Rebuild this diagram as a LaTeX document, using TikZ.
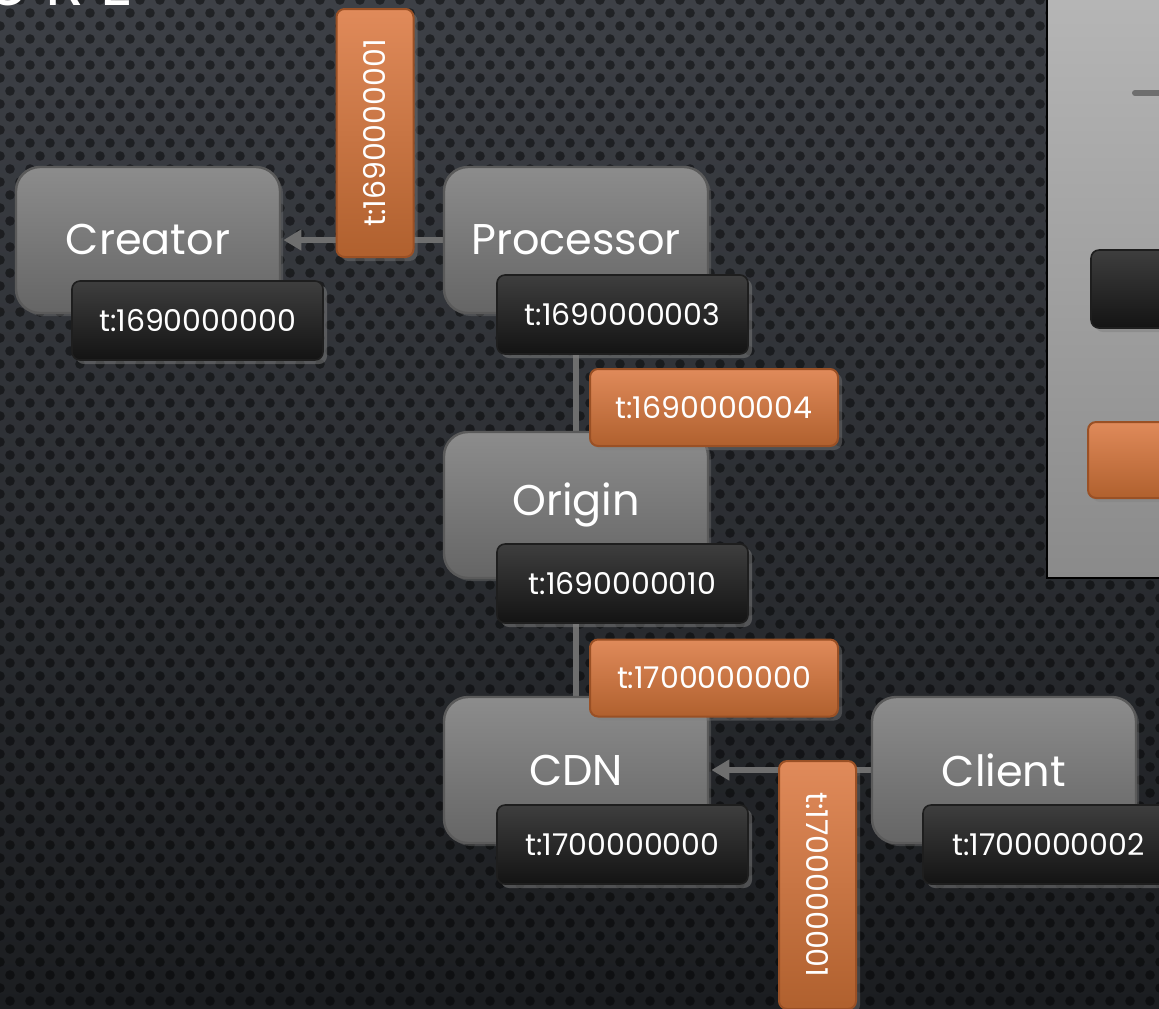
\documentclass[tikz,border=0pt]{standalone}
\usepackage{fontspec}
\setmainfont{Poppins}
\usetikzlibrary{arrows.meta,shadows}
\definecolor{bgtop}{HTML}{3D4046}
\definecolor{bgbot}{HTML}{1B1D20}
\definecolor{entitytop}{HTML}{8C8C8C}
\definecolor{entitybot}{HTML}{656565}
\definecolor{entityedge}{HTML}{5A5A5A}
\definecolor{stamptop}{HTML}{3E3E3E}
\definecolor{stampbot}{HTML}{131313}
\definecolor{stampedge}{HTML}{1E1E1E}
\definecolor{msglight}{HTML}{E08A5A}
\definecolor{msgdark}{HTML}{B0602E}
\definecolor{msgedge}{HTML}{9A5025}
\definecolor{linkgray}{HTML}{6E6E6E}
\definecolor{legendtop}{HTML}{B6B6B6}
\definecolor{legendbot}{HTML}{8A8A8A}

\begin{document}
\begin{tikzpicture}[x=0.5pt,y=-0.5pt,
  entity/.style={draw=entityedge,line width=1.2pt,rounded corners=12pt,
    top color=entitytop,bottom color=entitybot,minimum width=132pt,
    minimum height=73pt,text=white,font=\fontsize{21.5}{25}\selectfont,
    drop shadow={shadow xshift=1.5pt,shadow yshift=-1.5pt,opacity=0.35}},
  localtime/.style={draw=stampedge,line width=0.8pt,rounded corners=4pt,
    top color=stamptop,bottom color=stampbot,minimum width=125.5pt,
    minimum height=39.5pt,text=white,font=\fontsize{15}{18}\selectfont,
    drop shadow={shadow xshift=2pt,shadow yshift=-2pt,opacity=0.5}},
  msgtime/.style={draw=msgedge,line width=1pt,rounded corners=4pt,
    minimum width=124pt,minimum height=38.5pt,text=white,
    top color=msglight,bottom color=msgdark,
    font=\fontsize{15}{18}\selectfont,
    drop shadow={shadow xshift=2pt,shadow yshift=-2pt,opacity=0.4}},
  link/.style={draw=linkgray,line width=3pt,line cap=round},
  dot/.style={fill=black,fill opacity=0.45}]
\useasboundingbox (0,0) rectangle (1159,1008);
\clip (0,0) rectangle (1159,1008);

% background
\fill[top color=bgtop,bottom color=bgbot] (0,0) rectangle (1159,1008);
\foreach \j in {0,...,78}
  \foreach \i in {0,...,58}
    \fill[dot] ({\i*20+mod(\j,2)*10},{\j*13}) circle (2.4pt);

% title, cut off at the top
\node[anchor=base west,text=white,inner sep=0pt,
  font=\fontsize{32}{36}\selectfont\addfontfeatures{LetterSpace=25}] (title) at (-14,5) {URE};

% legend panel, cut off at the right
\draw[draw=black,line width=1pt,top color=legendtop,bottom color=legendbot]
  (1047,-10) rectangle (1180,578);
\draw[link] (1135,93) -- (1180,93);
\draw[draw=stampedge,line width=0.8pt,rounded corners=4pt,top color=stamptop,
  bottom color=stampbot,drop shadow={shadow xshift=2pt,shadow yshift=-2pt,opacity=0.5}]
  (1091,250) rectangle (1190,328);
\draw[draw=msgedge,line width=1pt,rounded corners=4pt,top color=msglight,
  bottom color=msgdark,drop shadow={shadow xshift=2pt,shadow yshift=-2pt,opacity=0.4}]
  (1088,422) rectangle (1190,498);

% systems
\coordinate (creatorpos) at (148,240);
\coordinate (procpos) at (576,240);
\coordinate (originpos) at (576,505);
\coordinate (cdnpos) at (576,770);
\coordinate (clientpos) at (1004,770);

% connectors, under the boxes
\path (creatorpos) node[minimum width=132pt,minimum height=73pt] (creatorfrm) {}
      (procpos) node[minimum width=132pt,minimum height=73pt] (procfrm) {}
      (originpos) node[minimum width=132pt,minimum height=73pt] (originfrm) {}
      (cdnpos) node[minimum width=132pt,minimum height=73pt] (cdnfrm) {}
      (clientpos) node[minimum width=132pt,minimum height=73pt] (clientfrm) {};
\draw[link,-{Triangle[length=9pt,width=10pt]}] (procfrm.west) -- ([xshift=1.5pt]creatorfrm.east);
\draw[link] (procfrm.south) -- (originfrm.north);
\draw[link] (originfrm.south) -- (cdnfrm.north);
\draw[link,-{Triangle[length=9pt,width=10pt]}] (clientfrm.west) -- ([xshift=1.5pt]cdnfrm.east);

\node[entity] (creator) at (creatorpos) {Creator};
\node[entity] (proc) at (procpos) {Processor};
\node[entity] (origin) at (originpos) {Origin};
\node[entity] (cdn) at (cdnpos) {CDN};
\node[entity] (client) at (clientpos) {Client};

% local clocks
\node[localtime] (creatort) at (197.5,320.5) {t:1690000000};
\node[localtime] (proct) at (622.5,314.5) {t:1690000003};
\node[localtime] (origint) at (622.5,583.5) {t:1690000010};
\node[localtime] (cdnt) at (622.5,844.5) {t:1700000000};
\node[localtime] (clientt) at (1048.5,844.5) {t:1700000002};

% message stamps
\node[msgtime,rotate=90] (msgone) at (375,133) {t:1690000001};
\node[msgtime] (msgtwo) at (714,407.5) {t:1690000004};
\node[msgtime] (msgthree) at (714,678) {t:1700000000};
\node[msgtime,rotate=-90] (msgfour) at (817.5,885) {t:1700000001};
\end{tikzpicture}
\end{document}
